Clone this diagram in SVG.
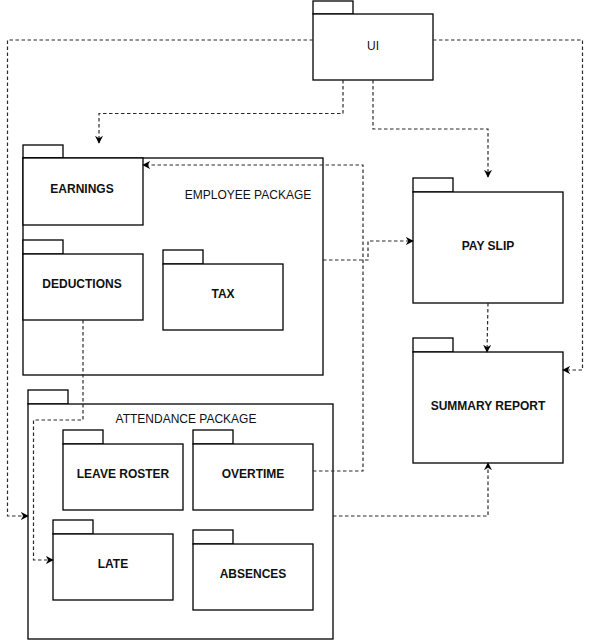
<svg xmlns="http://www.w3.org/2000/svg" width="592" height="641" viewBox="0 0 592 641">
<style>
.box{fill:#fff;stroke:#000;stroke-width:1.3}
.lbl{font-family:"Liberation Sans",Arial,sans-serif;font-size:12px;font-weight:bold;fill:#111;text-anchor:middle}
.pkg{font-family:"Liberation Sans",Arial,sans-serif;font-size:12px;fill:#111;text-anchor:middle}
.con{fill:none;stroke:#2a2a2a;stroke-width:1.2;stroke-dasharray:3.5 2.5}
</style>
<defs>
<marker id="arr" viewBox="0 0 10 10" refX="9" refY="5" markerWidth="8" markerHeight="8" orient="auto" markerUnits="userSpaceOnUse">
<path d="M0,0 L10,5 L0,10 L3,5 Z" fill="#000"/>
</marker>
</defs>
<rect width="592" height="641" fill="#fff"/>

<g id="employee-package">
<rect class="box" x="23" y="145" width="40" height="13"/>
<rect class="box" x="23" y="158" width="300" height="217"/>
<text class="pkg" x="248" y="199">EMPLOYEE PACKAGE</text>
</g>
<g id="earnings">
<rect class="box" x="23" y="158" width="120" height="67"/>
<text class="lbl" x="82" y="193">EARNINGS</text>
</g>
<g id="deductions">
<rect class="box" x="23" y="240" width="40" height="14"/>
<rect class="box" x="23" y="254" width="120" height="66"/>
<text class="lbl" x="82" y="288">DEDUCTIONS</text>
</g>
<g id="tax">
<rect class="box" x="163" y="250" width="40" height="14"/>
<rect class="box" x="163" y="264" width="120" height="66"/>
<text class="lbl" x="223" y="298">TAX</text>
</g>

<g id="attendance-package">
<rect class="box" x="28" y="390" width="40" height="14"/>
<rect class="box" x="28" y="404" width="305" height="235"/>
<text class="pkg" x="186" y="423">ATTENDANCE PACKAGE</text>
</g>
<g id="leave-roster">
<rect class="box" x="63" y="430" width="40" height="14"/>
<rect class="box" x="63" y="444" width="120" height="66"/>
<text class="lbl" x="123" y="478">LEAVE ROSTER</text>
</g>
<g id="overtime">
<rect class="box" x="193" y="430" width="40" height="14"/>
<rect class="box" x="193" y="444" width="120" height="66"/>
<text class="lbl" x="253" y="478">OVERTIME</text>
</g>
<g id="late">
<rect class="box" x="53" y="520" width="40" height="14"/>
<rect class="box" x="53" y="534" width="120" height="66"/>
<text class="lbl" x="113" y="568">LATE</text>
</g>
<g id="absences">
<rect class="box" x="193" y="530" width="40" height="14"/>
<rect class="box" x="193" y="544" width="120" height="66"/>
<text class="lbl" x="253" y="578">ABSENCES</text>
</g>

<g id="ui">
<rect class="box" x="313" y="1" width="40" height="13"/>
<rect class="box" x="313" y="14" width="120" height="66"/>
<text class="pkg" x="373" y="50">UI</text>
</g>
<g id="pay-slip">
<rect class="box" x="413" y="178" width="40" height="14"/>
<rect class="box" x="413" y="192" width="150" height="111"/>
<text class="lbl" x="488" y="250">PAY SLIP</text>
</g>
<g id="summary-report">
<rect class="box" x="413" y="338" width="40" height="14"/>
<rect class="box" x="413" y="352" width="150" height="111"/>
<text class="lbl" x="488" y="410">SUMMARY REPORT</text>
</g>

<g id="connectors">
<path class="con" marker-end="url(#arr)" d="M313,40 H7.5 V516 H28"/>
<path class="con" marker-end="url(#arr)" d="M433,40 H582.5 V370 H563"/>
<path class="con" marker-end="url(#arr)" d="M343,80 V113.5 H99 V143"/>
<path class="con" marker-end="url(#arr)" d="M373,80 V129 H488 V177"/>
<path class="con" marker-end="url(#arr)" d="M323,260 H368 V241 H413"/>
<path class="con" marker-end="url(#arr)" d="M313,471 H363 V165 H143"/>
<path class="con" marker-end="url(#arr)" d="M83,320 V420 H33.5 V560 H53"/>
<path class="con" marker-end="url(#arr)" d="M488,303 L487,352"/>
<path class="con" marker-end="url(#arr)" d="M333,516 H488 V463"/>
</g>
</svg>
